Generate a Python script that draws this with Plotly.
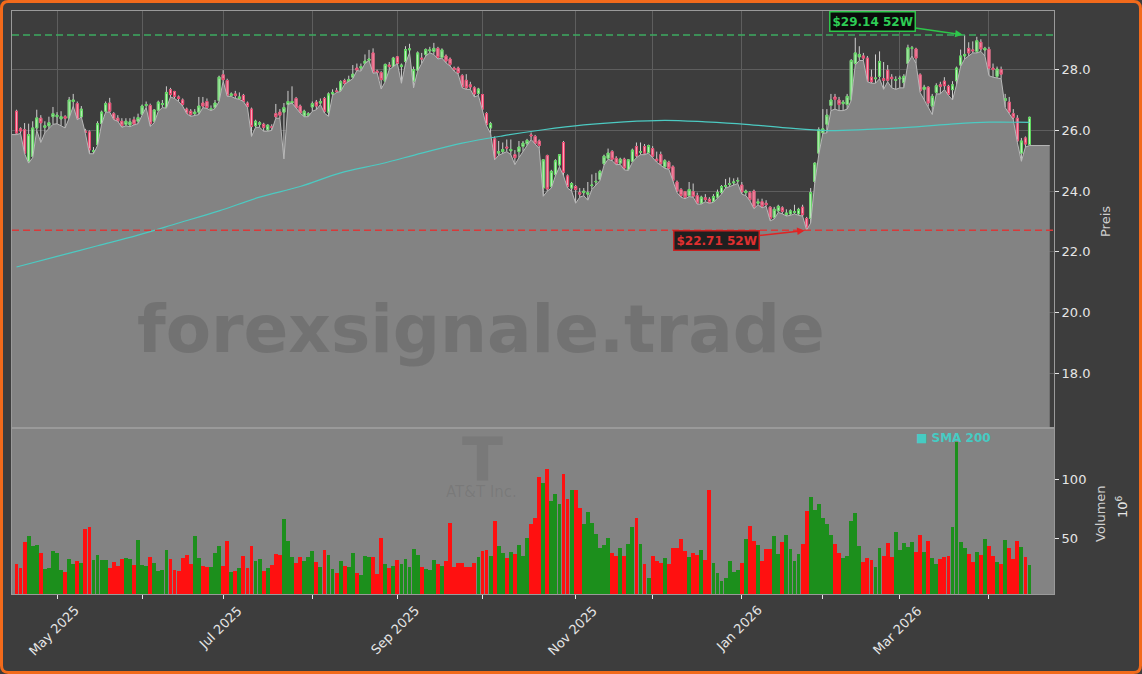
import pandas as pd
import plotly.graph_objects as go

# ---------------- data ----------------
HOLIDAYS = ["2025-04-18", "2025-05-26", "2025-06-19", "2025-07-04", "2025-09-01",
            "2025-11-27", "2025-12-25", "2026-01-01", "2026-01-19", "2026-02-16", "2026-04-03"]
DATES = pd.bdate_range("2025-04-16", "2026-04-16", freq="C", holidays=HOLIDAYS)

OPEN = [26.63, 26.05, 26.02, 24.98, 25.14, 26.08, 26.4, 26.1, 26.15, 26.45,
        26.45, 26.38, 26.45, 26.4, 26.95, 26.88, 26.44, 25.98, 25.95, 25.3,
        25.53, 26.22, 26.63, 26.9, 26.55, 26.4, 26.3, 26.2, 26.18, 26.35,
        26.3, 26.53, 26.82, 26.82, 26.3, 26.66, 26.85, 26.75, 27.34, 27.28,
        27.1, 27.0, 26.7, 26.63, 26.55, 26.6, 26.9, 26.95, 26.7, 26.75,
        26.98, 27.83, 27.64, 27.15, 27.2, 27.05, 27.15, 26.9, 26.7, 26.15,
        26.2, 26.2, 26.02, 26.12, 26.55, 26.6, 26.6, 26.85, 26.9, 27.05,
        26.8, 26.47, 26.5, 26.77, 26.93, 26.9, 27.05, 26.6, 27.2, 27.3,
        27.3, 27.64, 27.6, 27.75, 28.05, 28.05, 28.2, 28.3, 28.55, 27.95,
        27.9, 27.62, 28.15, 28.1, 28.42, 28.1, 28.27, 28.65, 27.62, 27.98,
        28.38, 28.5, 28.62, 28.6, 28.7, 28.4, 28.45, 28.35, 28.05, 28.05,
        27.8, 27.65, 27.5, 27.4, 27.22, 27.18, 26.55, 26.08, 25.72, 25.25,
        25.3, 25.45, 25.33, 25.2, 25.3, 25.47, 25.56, 25.85, 25.8, 25.65,
        24.1, 25.17, 24.15, 24.55, 24.86, 25.6, 24.5, 24.1, 24.15, 23.95,
        23.95, 23.9, 24.18, 24.3, 24.38, 24.9, 25.08, 25.3, 25.08, 24.92,
        25.05, 24.7, 24.98, 25.47, 25.28, 25.47, 25.27, 25.4, 25.05, 25.2,
        24.8, 24.95, 24.8, 24.3, 24.05, 23.98, 23.85, 23.98, 23.85, 23.6,
        23.78, 23.73, 23.66, 23.8, 23.95, 24.15, 24.22, 24.27, 24.33, 24.2,
        23.95, 23.95, 24.0, 23.6, 23.65, 23.6, 23.47, 23.13, 23.35, 23.45,
        23.22, 23.25, 23.3, 23.25, 23.47, 23.1, 23.1, 24.32, 25.25, 25.92,
        26.2, 26.82, 27.1, 27.0, 26.88, 26.85, 27.0, 28.2, 28.42, 28.45,
        28.38, 27.75, 27.7, 27.78, 27.7, 27.98, 27.75, 27.65, 27.7, 27.57,
        28.2, 28.7, 28.68, 27.83, 27.35, 27.42, 26.8, 27.25, 27.5, 27.62,
        27.45, 27.34, 27.63, 28.15, 28.45, 28.7, 28.65, 28.6, 28.9, 28.65,
        28.67, 28.05, 27.78, 28.0, 26.98, 26.93, 26.55, 26.4, 25.25, 25.75,
        25.53]

HIGH = [26.68, 26.1, 26.24, 26.22, 26.3, 26.68, 26.5, 26.3, 26.45, 26.77,
        26.6, 26.63, 26.5, 27.1, 27.2, 26.95, 26.8, 26.05, 26.0, 25.45,
        26.3, 26.65, 26.95, 27.07, 26.6, 26.5, 26.4, 26.4, 26.4, 26.45,
        26.55, 26.85, 26.95, 26.88, 26.7, 26.98, 27.0, 27.45, 27.4, 27.3,
        27.15, 27.05, 26.75, 26.7, 26.7, 27.1, 27.1, 27.05, 26.82, 27.0,
        27.8, 27.98, 27.7, 27.25, 27.3, 27.25, 27.2, 26.95, 26.75, 26.35,
        26.3, 26.25, 26.2, 26.2, 26.87, 26.7, 26.9, 27.3, 27.45, 27.1,
        26.85, 26.68, 26.6, 26.95, 27.0, 27.05, 27.1, 27.25, 27.35, 27.4,
        27.65, 27.7, 27.8, 28.15, 28.2, 28.2, 28.5, 28.65, 28.7, 28.0,
        27.95, 28.2, 28.25, 28.42, 28.45, 28.2, 28.77, 28.85, 28.1, 28.6,
        28.55, 28.7, 28.75, 28.88, 28.75, 28.7, 28.5, 28.4, 28.1, 28.1,
        27.85, 27.85, 27.6, 27.45, 27.4, 27.2, 26.6, 26.28, 25.8, 25.65,
        25.6, 25.7, 25.7, 25.35, 25.65, 25.65, 25.72, 25.93, 25.85, 25.7,
        25.05, 25.2, 24.7, 25.05, 25.22, 25.65, 24.55, 24.3, 24.2, 24.1,
        24.1, 24.3, 24.55, 24.6, 24.7, 25.2, 25.4, 25.35, 25.15, 25.1,
        25.1, 25.05, 25.4, 25.6, 25.6, 25.55, 25.53, 25.48, 25.3, 25.3,
        25.05, 25.0, 24.85, 24.35, 24.1, 24.0, 24.3, 24.25, 23.95, 23.85,
        23.9, 23.8, 23.9, 24.05, 24.2, 24.4, 24.45, 24.42, 24.45, 24.3,
        24.05, 24.0, 24.05, 23.75, 23.75, 23.7, 23.5, 23.48, 23.55, 23.5,
        23.4, 23.4, 23.55, 23.45, 23.55, 23.15, 24.1, 24.95, 26.1, 26.7,
        26.7, 27.2, 27.2, 27.1, 27.0, 27.2, 28.35, 29.05, 28.77, 28.55,
        28.45, 28.0, 28.5, 28.6, 28.25, 28.15, 27.85, 27.78, 27.8, 27.85,
        28.82, 28.78, 28.72, 27.88, 27.5, 27.45, 27.2, 27.55, 27.6, 27.75,
        27.5, 27.62, 28.1, 28.66, 29.14, 28.9, 28.93, 29.08, 29.0, 28.75,
        28.75, 28.2, 28.1, 28.1, 27.2, 27.1, 26.7, 26.5, 25.75, 25.8,
        26.45]

LOW = [25.86, 25.9, 25.23, 24.92, 25.1, 26.0, 25.6, 25.92, 26.05, 26.2,
       26.22, 26.15, 26.08, 26.4, 26.8, 26.35, 26.44, 25.9, 25.23, 25.23,
       25.5, 26.2, 26.6, 26.6, 26.35, 26.3, 26.1, 26.15, 26.12, 26.18,
       26.22, 26.5, 26.75, 26.13, 26.25, 26.63, 26.75, 26.73, 27.1, 27.05,
       26.95, 26.8, 26.55, 26.46, 26.5, 26.52, 26.75, 26.72, 26.65, 26.72,
       26.95, 27.62, 27.12, 27.12, 27.05, 27.02, 26.95, 26.75, 25.8, 26.1,
       26.1, 25.97, 25.97, 26.0, 26.4, 26.4, 25.06, 26.85, 26.9, 26.73,
       26.57, 26.45, 26.45, 26.63, 26.68, 26.85, 26.57, 26.46, 27.15, 27.25,
       27.28, 27.52, 27.6, 27.7, 27.97, 27.95, 28.2, 28.3, 27.88, 27.9,
       27.36, 27.6, 28.0, 28.1, 28.2, 27.55, 28.2, 28.55, 27.4, 27.95,
       28.2, 28.45, 28.55, 28.5, 28.35, 28.38, 28.22, 28.12, 27.95, 27.85,
       27.4, 27.35, 27.35, 27.1, 27.15, 26.68, 26.15, 25.9, 25.03, 25.18,
       25.25, 25.3, 25.2, 24.87, 25.1, 25.3, 25.5, 25.7, 25.55, 25.4,
       23.83, 24.0, 24.1, 24.5, 24.8, 24.5, 24.1, 24.0, 23.6, 23.8,
       23.85, 23.7, 24.05, 24.2, 24.35, 24.85, 25.05, 25.0, 24.87, 24.88,
       24.7, 24.68, 24.95, 25.1, 25.2, 25.2, 25.25, 25.1, 24.95, 24.85,
       24.75, 24.72, 24.3, 23.95, 23.8, 23.75, 23.82, 23.8, 23.57, 23.57,
       23.65, 23.6, 23.63, 23.75, 23.9, 24.1, 24.15, 24.2, 24.25, 23.9,
       23.85, 23.68, 23.42, 23.55, 23.45, 23.5, 23.02, 23.08, 23.3, 23.25,
       23.18, 23.2, 23.25, 23.2, 23.18, 22.71, 22.95, 24.25, 25.2, 25.9,
       25.92, 26.65, 26.7, 26.65, 26.65, 26.7, 26.98, 28.15, 28.3, 28.3,
       27.6, 27.55, 27.55, 27.7, 27.35, 27.6, 27.4, 27.35, 27.4, 27.4,
       28.2, 28.45, 28.2, 27.25, 27.0, 26.78, 26.52, 27.2, 27.2, 27.35,
       27.15, 27.0, 27.5, 28.1, 28.35, 28.45, 28.55, 28.55, 28.6, 28.45,
       27.8, 27.75, 27.72, 27.7, 26.75, 26.55, 26.35, 25.6, 24.98, 25.45,
       25.5]

CLOSE = [25.91, 25.98, 25.25, 25.86, 26.08, 26.41, 26.25, 26.15, 26.25, 26.55,
         26.5, 26.45, 26.4, 27.0, 27.0, 26.35, 26.7, 25.93, 25.36, 25.33,
         26.22, 26.6, 26.88, 26.63, 26.35, 26.3, 26.15, 26.3, 26.28, 26.2,
         26.42, 26.8, 26.85, 26.22, 26.67, 26.93, 26.88, 27.25, 27.18, 27.12,
         27.05, 26.85, 26.55, 26.52, 26.6, 26.8, 26.8, 26.75, 26.72, 26.9,
         27.75, 27.67, 27.15, 27.2, 27.15, 27.1, 26.95, 26.78, 26.13, 26.3,
         26.25, 26.1, 26.17, 26.1, 26.45, 26.5, 26.75, 26.95, 26.95, 26.73,
         26.57, 26.63, 26.55, 26.88, 26.8, 26.95, 26.63, 27.2, 27.25, 27.28,
         27.6, 27.54, 27.67, 27.85, 27.98, 28.1, 28.28, 28.35, 27.9, 27.9,
         27.67, 28.17, 28.1, 28.38, 28.2, 28.15, 28.66, 28.68, 28.0, 28.55,
         28.35, 28.66, 28.65, 28.7, 28.4, 28.65, 28.28, 28.17, 28.0, 27.9,
         27.43, 27.4, 27.43, 27.2, 27.36, 26.7, 26.19, 26.22, 25.05, 25.3,
         25.37, 25.42, 25.37, 25.1, 25.45, 25.58, 25.67, 25.82, 25.57, 25.5,
         25.03, 24.07, 24.65, 25.0, 25.2, 24.62, 24.15, 24.25, 24.05, 23.9,
         24.0, 23.95, 24.2, 24.32, 24.65, 25.15, 25.25, 25.05, 24.9, 25.05,
         24.76, 25.03, 25.35, 25.16, 25.3, 25.25, 25.5, 25.15, 25.0, 24.9,
         25.0, 24.75, 24.35, 24.0, 23.85, 23.8, 24.05, 23.83, 23.6, 23.8,
         23.72, 23.63, 23.82, 23.96, 24.15, 24.18, 24.25, 24.3, 24.35, 23.97,
         24.0, 23.72, 23.45, 23.65, 23.5, 23.55, 23.1, 23.4, 23.5, 23.33,
         23.28, 23.35, 23.32, 23.4, 23.22, 22.78, 23.95, 24.92, 26.02, 26.05,
         26.5, 27.0, 27.02, 26.85, 26.93, 27.12, 28.3, 28.55, 28.5, 28.38,
         27.62, 27.6, 27.72, 28.27, 27.65, 27.65, 27.7, 27.67, 27.72, 27.78,
         28.72, 28.72, 28.38, 27.3, 27.42, 26.9, 27.12, 27.47, 27.45, 27.47,
         27.18, 27.5, 28.05, 28.45, 28.5, 28.55, 28.62, 28.95, 28.68, 28.7,
         28.05, 28.0, 28.02, 27.85, 27.05, 26.6, 26.43, 25.65, 25.65, 25.55,
         26.43]

VOLUME = [29.1, 26.0, 47.5, 52.5, 44.2, 45.0, 38.0, 25.2, 26.0, 40.0,
          38.0, 24.1, 22.4, 33.3, 29.1, 31.6, 29.6, 58.1, 60.0, 32.4,
          36.6, 32.4, 32.4, 25.7, 30.8, 27.4, 33.3, 34.1, 33.3, 28.3,
          49.2, 28.3, 27.4, 35.0, 29.9, 23.2, 24.1, 40.8, 33.3, 24.1,
          23.2, 34.1, 36.6, 29.1, 52.5, 34.1, 27.4, 26.9, 26.9, 38.0,
          44.2, 27.4, 48.4, 22.4, 23.2, 25.7, 35.8, 25.7, 44.2, 31.6,
          33.3, 23.2, 25.7, 28.3, 37.5, 36.6, 66.8, 48.4, 35.0, 29.9,
          35.0, 31.6, 35.0, 40.0, 30.8, 26.6, 40.8, 36.6, 24.9, 21.6,
          31.6, 27.4, 26.6, 38.3, 21.6, 19.9, 35.8, 35.0, 35.0, 20.7,
          50.9, 29.1, 25.7, 27.4, 32.4, 29.1, 33.0, 26.9, 41.4, 36.6,
          26.6, 24.6, 24.1, 32.4, 29.1, 27.4, 31.6, 63.7, 26.9, 29.6,
          29.6, 26.9, 26.9, 29.6, 35.2, 40.0, 40.8, 35.8, 65.1, 44.2,
          38.0, 34.1, 39.1, 37.5, 45.0, 35.8, 50.6, 62.6, 67.3, 102.2,
          96.6, 108.4, 81.9, 87.7, 79.3, 104.5, 83.3, 91.1, 91.1, 75.7,
          62.6, 72.1, 63.1, 54.2, 42.8, 45.0, 50.6, 38.0, 35.8, 42.2,
          35.8, 45.8, 59.8, 67.3, 45.8, 29.1, 17.1, 35.8, 31.9, 30.2,
          33.8, 29.1, 42.2, 42.2, 50.0, 40.0, 35.2, 38.0, 36.6, 40.8,
          32.4, 91.1, 29.6, 21.3, 14.9, 17.1, 31.6, 22.4, 24.1, 29.6,
          50.0, 60.9, 48.4, 45.0, 31.6, 41.6, 41.6, 52.5, 37.5, 47.8,
          53.6, 41.6, 31.6, 37.5, 45.8, 73.4, 84.9, 74.3, 79.3, 67.9,
          62.6, 53.6, 45.8, 38.0, 34.4, 35.8, 65.1, 71.5, 44.2, 30.5,
          33.8, 32.1, 26.6, 42.2, 35.8, 46.4, 35.2, 55.6, 40.8, 46.4,
          43.6, 47.2, 38.9, 53.4, 38.9, 48.4, 33.8, 29.1, 33.3, 35.2,
          35.8, 59.8, 130.7, 47.2, 42.5, 37.5, 30.8, 39.1, 36.6, 50.0,
          44.2, 35.8, 30.8, 29.1, 49.2, 42.5, 33.3, 48.4, 43.3, 35.0,
          28.3]

SMA_STEP = 10
SMA200 = [21.5, 21.85, 22.2, 22.55, 22.95, 23.35, 23.8, 24.15, 24.6, 24.9,
          25.25, 25.58, 25.82, 26.02, 26.18, 26.28, 26.33, 26.28, 26.2, 26.08,
          25.99, 26.03, 26.1, 26.2, 26.27, 26.26]

# ---------------- geometry ----------------
W, H = 1142, 674
ML, MR, MT, MB = 12, 88, 11, 80
PW, PH = W - ML - MR, H - MT - MB
VOL_FRAC = 166 / PH
X_RANGE = [-1.11, 256.05]
FILL_EXT = 5


def xp(px):
    return (px - ML) / PW


def yp(py):
    return (H - MB - py) / PH


FONT = "DejaVu Sans"
BG = "#3d3d3d"
PANEL_GRAY = "#838383"
GRID = "#5e5e5e"
FRAME = "#9a9a9a"
TICKC = "#e6e6e6"
UP_VOL, DN_VOL = "#1c8f1c", "#ff1010"

n = len(CLOSE)
idx = list(range(n))
dates = list(DATES[:n])

month_idx, month_txt = [], []
for i in range(1, n):
    if dates[i].month != dates[i - 1].month:
        month_idx.append(i)
        month_txt.append(dates[i].strftime("%b %Y") if dates[i].month % 2 == 1 else "")

up = [c >= o for o, c in zip(OPEN, CLOSE)]
vol_colors = [UP_VOL if u else DN_VOL for u in up]
body_hi = [max(o, c) for o, c in zip(OPEN, CLOSE)]
body_lo = [min(o, c) for o, c in zip(OPEN, CLOSE)]

hi_val = max(HIGH)
hi_i = HIGH.index(hi_val)
lo_val = min(LOW)
lo_i = LOW.index(lo_val)

fig = go.Figure()

# low-price area
fig.add_trace(go.Scatter(
    x=[X_RANGE[0]] + idx + [idx[-1] + FILL_EXT],
    y=[LOW[0]] + LOW + [LOW[-1]],
    mode="lines", fill="tozeroy", fillcolor=PANEL_GRAY,
    line=dict(color="#b8b8b8", width=1), hoverinfo="skip",
    xaxis="x", yaxis="y"))

# SMA 200
fig.add_trace(go.Scatter(
    x=[i * SMA_STEP for i in range(len(SMA200))], y=SMA200,
    mode="lines", line=dict(color="#4ccac2", width=1.2, shape="spline"),
    hoverinfo="skip", xaxis="x", yaxis="y"))

# wicks
fig.add_trace(go.Candlestick(
    x=idx, open=OPEN, high=HIGH, low=LOW, close=CLOSE,
    increasing=dict(line=dict(color="#cfcfcf", width=1), fillcolor="rgba(0,0,0,0)"),
    decreasing=dict(line=dict(color="#cfcfcf", width=1), fillcolor="rgba(0,0,0,0)"),
    whiskerwidth=0, hoverinfo="skip", xaxis="x", yaxis="y"))

# bodies
fig.add_trace(go.Candlestick(
    x=idx, open=OPEN, high=body_hi, low=body_lo, close=CLOSE,
    increasing=dict(line=dict(color="#5cd65c", width=1), fillcolor="#c6efc6"),
    decreasing=dict(line=dict(color="#e8436b", width=1), fillcolor="#f6a9bb"),
    whiskerwidth=0, hoverinfo="skip", xaxis="x", yaxis="y"))

# volume
fig.add_trace(go.Bar(
    x=idx, y=VOLUME, marker=dict(color=vol_colors, line=dict(width=0)),
    width=0.95, hoverinfo="skip", xaxis="x2", yaxis="y2"))

# ---------------- shapes ----------------
shapes = [
    dict(type="rect", xref="x2 domain", yref="y2 domain", x0=0, x1=1, y0=0, y1=1,
         fillcolor=PANEL_GRAY, line=dict(width=0), layer="below"),
    dict(type="line", xref="x domain", yref="y", x0=0, x1=1, y0=hi_val, y1=hi_val,
         line=dict(color="#3daa60", width=1.5, dash="7px,4px")),
    dict(type="line", xref="x domain", yref="y", x0=0, x1=1, y0=lo_val, y1=lo_val,
         line=dict(color="#d83a3a", width=1.5, dash="7px,4px")),
]

# orange rounded frame around the whole picture
r = 7
bx0, bx1, by0, by1 = 1.5, W - 1.5, 1.5, H - 1.5
pts = [("M", bx0 + r, by0), ("L", bx1 - r, by0), ("Q", bx1, by0, bx1, by0 + r),
       ("L", bx1, by1 - r), ("Q", bx1, by1, bx1 - r, by1), ("L", bx0 + r, by1),
       ("Q", bx0, by1, bx0, by1 - r), ("L", bx0, by0 + r), ("Q", bx0, by0, bx0 + r, by0)]
path = ""
for p in pts:
    cmd, coords = p[0], p[1:]
    seg = []
    for k in range(0, len(coords), 2):
        seg.append(f"{xp(coords[k]):.5f},{yp(coords[k + 1]):.5f}")
    path += cmd + " ".join(seg) + " "
path += "Z"
shapes.append(dict(type="path", xref="paper", yref="paper", path=path,
                   line=dict(color="#f26a1b", width=3), fillcolor="rgba(0,0,0,0)",
                   layer="above"))


# ---------------- annotations ----------------
def label(px, py, text, size, color, angle=0):
    return dict(x=xp(px), y=yp(py), xref="paper", yref="paper", text=text,
                xanchor="center", yanchor="middle", textangle=angle, showarrow=False,
                font=dict(family=FONT, size=size, color=color))


ann = [
    label(481, 329, "<b>forexsignale.trade</b>", 66, "rgba(50,50,50,0.2)"),
    label(482, 460, "<b>T</b>", 60, "rgba(70,70,70,0.16)"),
    label(481, 492, "AT&amp;T Inc.", 15, "rgba(70,70,70,0.16)"),
    label(953, 438, "<b>■ SMA 200</b>", 12, "#46cbc3"),
    label(1105, 222, "Preis", 13, "#cfcfcf", -90),
    label(1100, 514, "Volumen", 13, "#cfcfcf", -90),
    label(1122, 507, "10<sup>6</sup>", 13, "#e6e6e6", -90),
    dict(x=hi_i, y=hi_val, xref="x", yref="y", text=f"<b>${hi_val:.2f} 52W</b>",
         showarrow=True, ax=-92, ay=-13, arrowcolor="#2ec64a", arrowwidth=1.5,
         arrowhead=2, arrowsize=1, standoff=2,
         bgcolor="rgba(5,5,5,0.9)", bordercolor="#2ec64a", borderwidth=1.5, borderpad=2,
         font=dict(family=FONT, size=12, color="#2ecc55")),
    dict(x=lo_i, y=lo_val, xref="x", yref="y", text=f"<b>${lo_val:.2f} 52W</b>",
         showarrow=True, ax=-90, ay=10, arrowcolor="#e02424", arrowwidth=1.5,
         arrowhead=2, arrowsize=1, standoff=2,
         bgcolor="rgba(20,20,20,0.9)", bordercolor="#c82020", borderwidth=1.5, borderpad=2,
         font=dict(family=FONT, size=12, color="#e03030")),
]

# month labels, rotated and centred under their ticks
for mi, mt in zip(month_idx, month_txt):
    if mt:
        ann.append(dict(x=mi - 0.7, y=yp(600), xref="x2", yref="paper", text=mt,
                        textangle=-45, xanchor="center", yanchor="top", showarrow=False,
                        font=dict(family=FONT, size=13, color=TICKC)))

axis_common = dict(showline=True, mirror=True, linecolor=FRAME, linewidth=1, zeroline=False,
                   tickfont=dict(family=FONT, size=13, color=TICKC))

fig.update_layout(
    width=W, height=H,
    margin=dict(l=ML, r=MR, t=MT, b=MB, autoexpand=False),
    paper_bgcolor=BG, plot_bgcolor=BG,
    showlegend=False, hovermode=False, bargap=0,
    shapes=shapes, annotations=ann,
    xaxis=dict(domain=[0, 1], anchor="y", range=X_RANGE, tickvals=month_idx,
               showticklabels=False, ticks="", showgrid=True, gridcolor=GRID, gridwidth=1,
               rangeslider=dict(visible=False), **axis_common),
    xaxis2=dict(domain=[0, 1], anchor="y2", matches="x", range=X_RANGE, tickvals=month_idx,
                showticklabels=False, ticks="outside", ticklen=4,
                tickcolor=TICKC, showgrid=False, rangeslider=dict(visible=False),
                **axis_common),
    yaxis=dict(domain=[VOL_FRAC, 1], anchor="x", side="right", range=[16.2, 29.93],
               tickvals=[18, 20, 22, 24, 26, 28], tickformat=".1f", ticks="outside",
               ticklen=4, tickcolor=TICKC, showgrid=True, gridcolor=GRID, gridwidth=1,
               **axis_common),
    yaxis2=dict(domain=[0, VOL_FRAC], anchor="x2", side="right", range=[3.9, 142.8],
                tickvals=[50, 100], ticks="outside", ticklen=4, tickcolor=TICKC,
                showgrid=False, **axis_common),
)

fig.write_html(
    "out.html",
    config={"displayModeBar": False},
    post_script="document.body.style.margin='0';document.body.style.padding='0';"
                "document.body.style.overflow='hidden';")
